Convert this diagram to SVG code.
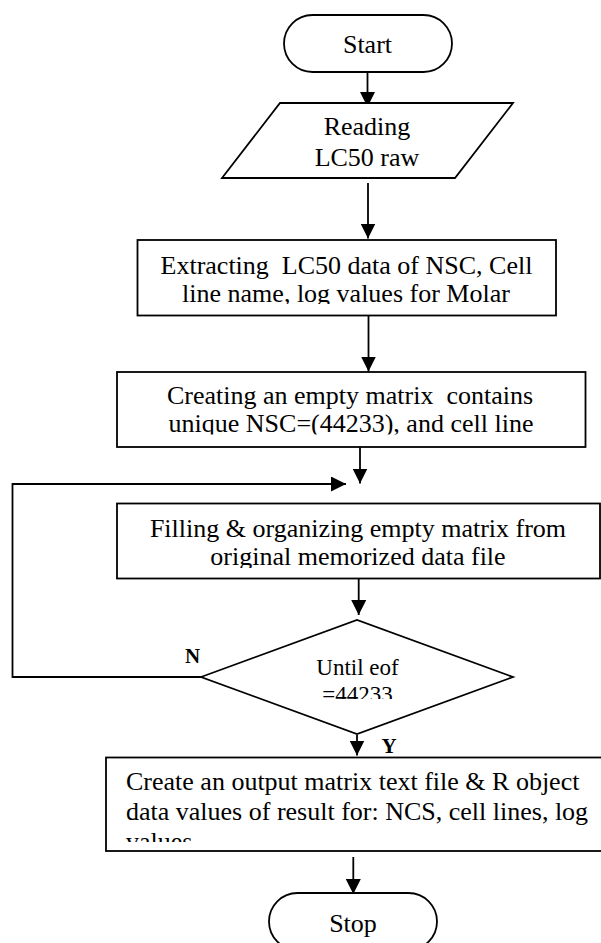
<svg xmlns="http://www.w3.org/2000/svg" width="601" height="943" viewBox="0 0 601 943">
  <style>
    .shape { fill: #ffffff; stroke: #000000; stroke-width: 1.8; }
    .link { fill: none; stroke: #000000; stroke-width: 1.8; }
    .t { font-family: "Liberation Serif", "Times New Roman", serif; font-size: 26px; fill: #000000; }
    .mid { text-anchor: middle; }
    .small { font-size: 23px; }
    .lbl { font-family: "Liberation Serif", "Times New Roman", serif; font-size: 21px; font-weight: bold; fill: #000000; }
  </style>
  <defs>
    <marker id="arrow" viewBox="0 0 15 15" refX="15" refY="7.5" markerWidth="15" markerHeight="15" markerUnits="userSpaceOnUse" orient="auto">
      <path d="M0,0 L15,7.5 L0,15 z" fill="#000000"/>
    </marker>
    <!-- text areas inside the boxes cut off the lowest line -->
    <clipPath id="clip-extract"><rect x="137" y="240" width="420" height="64"/></clipPath>
    <clipPath id="clip-create"><rect x="117" y="372" width="469" height="62.5"/></clipPath>
    <clipPath id="clip-fill"><rect x="117" y="503" width="484" height="65"/></clipPath>
    <clipPath id="clip-until"><rect x="290" y="640" width="135" height="59"/></clipPath>
    <clipPath id="clip-output"><rect x="106" y="757" width="496" height="85"/></clipPath>
  </defs>

  <!-- connectors -->
  <g id="connectors">
    <path class="link" d="M367.5,72 V107" marker-end="url(#arrow)"/>
    <path class="link" d="M368,183 V238.5" marker-end="url(#arrow)"/>
    <path class="link" d="M368.5,315.5 V371.5" marker-end="url(#arrow)"/>
    <path class="link" d="M360,447 V483.5" marker-end="url(#arrow)"/>
    <path class="link" d="M201,677 H12.5 V484 H346" marker-end="url(#arrow)"/>
    <path class="link" d="M358.7,579 V615" marker-end="url(#arrow)"/>
    <path class="link" d="M357,735 V755.5" marker-end="url(#arrow)"/>
    <path class="link" d="M353.3,857 V894" marker-end="url(#arrow)"/>
    <text class="lbl" x="185" y="663">N</text>
    <text class="lbl" x="381.5" y="752.5">Y</text>
  </g>

  <g id="start">
    <rect class="shape" x="284" y="15" width="168" height="57" rx="28.5"/>
    <text class="t mid" x="367.5" y="53">Start</text>
  </g>

  <g id="read">
    <polygon class="shape" points="280,103 513,103 455,178 222,178"/>
    <text class="t mid" x="367" y="135">Reading</text>
    <text class="t mid" x="367" y="165.5">LC50 raw</text>
  </g>

  <g id="extract">
    <rect class="shape" x="137.5" y="240" width="418.5" height="75.5"/>
    <g clip-path="url(#clip-extract)">
      <text class="t mid" x="346.5" y="274" xml:space="preserve">Extracting  LC50 data of NSC, Cell</text>
      <text class="t mid" x="346" y="301.7">line name, log values for Molar</text>
    </g>
  </g>

  <g id="create">
    <rect class="shape" x="117" y="372" width="468.5" height="75"/>
    <g clip-path="url(#clip-create)">
      <text class="t mid" x="350" y="404" xml:space="preserve">Creating an empty matrix  contains</text>
      <text class="t mid" x="351" y="432">unique NSC=(44233), and cell line</text>
    </g>
  </g>

  <g id="fill">
    <rect class="shape" x="117" y="503.5" width="483" height="75"/>
    <g clip-path="url(#clip-fill)">
      <text class="t mid" x="358" y="537">Filling &amp; organizing empty matrix from</text>
      <text class="t mid" x="358" y="565">original memorized data file</text>
    </g>
  </g>

  <g id="until">
    <polygon class="shape" points="201,677 357,620 513,677 357,734"/>
    <g clip-path="url(#clip-until)">
      <text class="t small mid" x="357.5" y="675">Until eof</text>
      <text class="t small mid" x="357.5" y="702">=44233</text>
    </g>
  </g>

  <g id="output">
    <rect class="shape" x="106" y="757.5" width="500" height="93.5"/>
    <g clip-path="url(#clip-output)">
      <text class="t" x="126" y="790">Create an output matrix text file &amp; R object</text>
      <text class="t" x="126" y="820">data values of result for: NCS, cell lines, log</text>
      <text class="t" x="126" y="850">values</text>
    </g>
  </g>

  <g id="stop">
    <rect class="shape" x="269" y="893" width="168" height="57" rx="28.5"/>
    <text class="t mid" x="353" y="931.5">Stop</text>
  </g>
</svg>
